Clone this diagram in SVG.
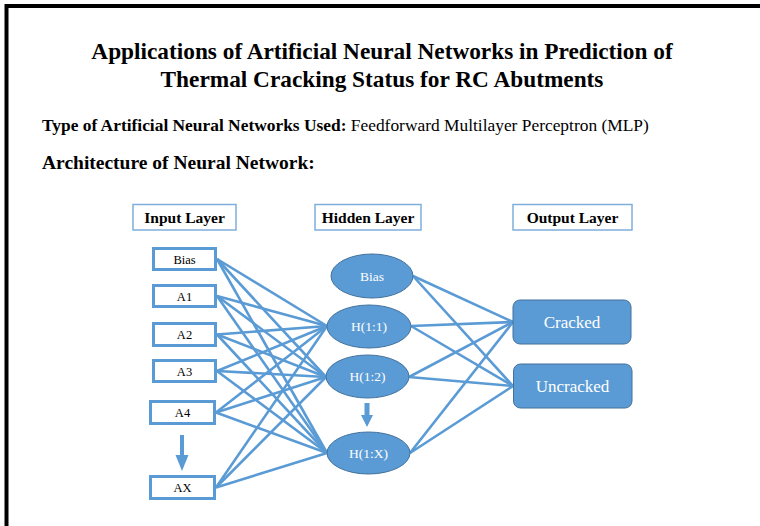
<svg xmlns="http://www.w3.org/2000/svg" width="760" height="526" viewBox="0 0 760 526">
<style>
.serif{font-family:"Liberation Serif","Times New Roman",serif}
.title{font-size:23.3px;font-weight:bold;text-anchor:middle}
.lbl{fill:#fff;stroke:#7FAEDC;stroke-width:1.5}
.lbltxt{font-size:15.5px;font-weight:bold;text-anchor:middle;fill:#000}
.inp{fill:#fff;stroke:#5B9BD5;stroke-width:3}
.inptxt{font-size:12.5px;text-anchor:middle;fill:#000}
.hid{fill:#5B9BD5;stroke:#41719C;stroke-width:1}
.hidtxt{font-size:13.5px;text-anchor:middle;fill:#fff}
.out{fill:#5B9BD5;stroke:#41719C;stroke-width:1}
.outtxt{font-size:17px;text-anchor:middle;fill:#fff}
.conn line{stroke:#5B9BD5;stroke-width:2.6}
.arr{fill:#5B9BD5}
</style>
<rect x="0" y="0" width="760" height="526" fill="#fff"/>
<path d="M6.5 526 V6 H760" fill="none" stroke="#000" stroke-width="4"/>
<text class="serif title" x="382" y="59">Applications of Artificial Neural Networks in Prediction of</text>
<text class="serif title" x="382" y="87">Thermal Cracking Status for RC Abutments</text>
<text class="serif" x="42" y="131" font-size="17.4"><tspan font-weight="bold">Type of Artificial Neural Networks Used:</tspan> Feedforward Multilayer Perceptron (MLP)</text>
<text class="serif" x="42" y="169" font-size="19.5" font-weight="bold">Architecture of Neural Network:</text>

<g id="label-input"><rect class="lbl" x="133" y="204.5" width="103" height="25.5"/><text class="serif lbltxt" x="184.5" y="222.5">Input Layer</text></g>
<g id="label-hidden"><rect class="lbl" x="315" y="204.5" width="106" height="25.5"/><text class="serif lbltxt" x="368" y="222.5">Hidden Layer</text></g>
<g id="label-output"><rect class="lbl" x="513" y="204.5" width="119" height="25.5"/><text class="serif lbltxt" x="572.5" y="222.5">Output Layer</text></g>

<g id="connectors" class="conn">
<line x1="217" y1="259" x2="327" y2="326"/><line x1="217" y1="259" x2="326" y2="377"/><line x1="217" y1="259" x2="327" y2="453"/>
<line x1="217" y1="296" x2="327" y2="326"/><line x1="217" y1="296" x2="326" y2="377"/><line x1="217" y1="296" x2="327" y2="453"/>
<line x1="217" y1="334.5" x2="327" y2="326"/><line x1="217" y1="334.5" x2="326" y2="377"/><line x1="217" y1="334.5" x2="327" y2="453"/>
<line x1="217" y1="371" x2="327" y2="326"/><line x1="217" y1="371" x2="326" y2="377"/><line x1="217" y1="371" x2="327" y2="453"/>
<line x1="216" y1="412.5" x2="327" y2="326"/><line x1="216" y1="412.5" x2="326" y2="377"/><line x1="216" y1="412.5" x2="327" y2="453"/>
<line x1="216" y1="487.5" x2="327" y2="326"/><line x1="216" y1="487.5" x2="326" y2="377"/><line x1="216" y1="487.5" x2="327" y2="453"/>
<line x1="413" y1="276" x2="513" y2="322"/><line x1="413" y1="276" x2="513" y2="386"/>
<line x1="411" y1="326" x2="513" y2="322"/><line x1="411" y1="326" x2="513" y2="386"/>
<line x1="409" y1="377" x2="513" y2="322"/><line x1="409" y1="377" x2="513" y2="386"/>
<line x1="410" y1="453" x2="513" y2="322"/><line x1="410" y1="453" x2="513" y2="386"/>
<path class="arr" d="M180 435 H184 V455 H188.5 L182 471 L175.5 455 H180 Z"/>
<path class="arr" d="M364.5 403 H369.5 V415 H373 L367 427 L361 415 H364.5 Z"/>
</g>

<g id="in-bias"><rect class="inp" x="153.5" y="248.5" width="62" height="21"/><text class="serif inptxt" x="184.5" y="263.5">Bias</text></g>
<g id="in-a1"><rect class="inp" x="153.5" y="285.5" width="62" height="21"/><text class="serif inptxt" x="184.5" y="300.5">A1</text></g>
<g id="in-a2"><rect class="inp" x="153.5" y="323.5" width="62" height="22"/><text class="serif inptxt" x="184.5" y="339">A2</text></g>
<g id="in-a3"><rect class="inp" x="153.5" y="360.5" width="62" height="21"/><text class="serif inptxt" x="184.5" y="375.5">A3</text></g>
<g id="in-a4"><rect class="inp" x="150.5" y="401.5" width="64" height="22"/><text class="serif inptxt" x="182.5" y="417">A4</text></g>
<g id="in-ax"><rect class="inp" x="150.5" y="476.5" width="64" height="22"/><text class="serif inptxt" x="182.5" y="492">AX</text></g>

<g id="h-bias"><ellipse class="hid" cx="372" cy="276" rx="41" ry="22"/><text class="serif hidtxt" x="372" y="280.5">Bias</text></g>
<g id="h-11"><ellipse class="hid" cx="369" cy="326.5" rx="42" ry="21.5"/><text class="serif hidtxt" x="369" y="331">H(1:1)</text></g>
<g id="h-12"><ellipse class="hid" cx="367.5" cy="376.5" rx="41.5" ry="21.5"/><text class="serif hidtxt" x="367.5" y="381">H(1:2)</text></g>
<g id="h-1x"><ellipse class="hid" cx="368.5" cy="453" rx="41.5" ry="21"/><text class="serif hidtxt" x="368.5" y="457.5">H(1:X)</text></g>

<g id="out-cracked"><rect class="out" x="513" y="300" width="118" height="44" rx="7"/><text class="serif outtxt" x="572" y="328">Cracked</text></g>
<g id="out-uncracked"><rect class="out" x="513.5" y="364" width="118.5" height="44" rx="7"/><text class="serif outtxt" x="572.5" y="392">Uncracked</text></g>
</svg>
